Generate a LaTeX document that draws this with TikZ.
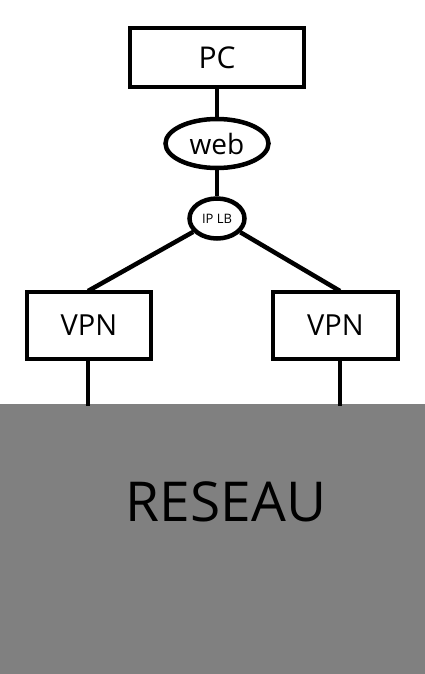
\documentclass[tikz,border=0pt]{standalone}
\usepackage{fontspec}
\setmainfont{Open Sans}
\usetikzlibrary{shapes.geometric}
\definecolor{netgray}{RGB}{128,128,128}
\begin{document}
\begin{tikzpicture}[
  x=1pt,y=-1pt,
  line width=4.5pt,
  every node/.style={inner sep=0pt},
  box/.style={draw,rectangle},
  bubble/.style={draw,ellipse},
  ]
  \useasboundingbox (0,0) rectangle (425,674);
  \fill[netgray] (0,404) rectangle (425,674);
  \node[box,minimum width=174pt,minimum height=59pt,font=\fontsize{30}{30}\selectfont] (pc) at (217,57.5) {PC};
  \node[bubble,minimum width=103pt,minimum height=49pt,font=\fontsize{28}{28}\selectfont] (web) at (217,143.5) {web};
  \node[bubble,minimum width=55pt,minimum height=40pt,font=\fontsize{13}{13}\selectfont] (lb) at (217,218.5) {IP LB};
  \node[box,minimum width=124pt,minimum height=67pt,font=\fontsize{29}{29}\selectfont] (vpnl) at (89,325.5) {VPN};
  \node[box,minimum width=125pt,minimum height=67pt,font=\fontsize{29}{29}\selectfont] (vpnr) at (335.5,325.5) {VPN};
  \node[font=\fontsize{55}{55}\selectfont] (net) at (226,502) {RESEAU};
  \coordinate (topl) at (88,291);
  \coordinate (topr) at (340,291);
  \coordinate (inl) at (88,406);
  \coordinate (inr) at (340,406);
  \draw (pc.south) -- (web.north);
  \draw (web.south) -- (lb.north);
  \draw (lb) -- (topl);
  \draw (lb) -- (topr);
  \draw (vpnl.south -| inl) -- (inl);
  \draw (vpnr.south -| inr) -- (inr);
\end{tikzpicture}
\end{document}
